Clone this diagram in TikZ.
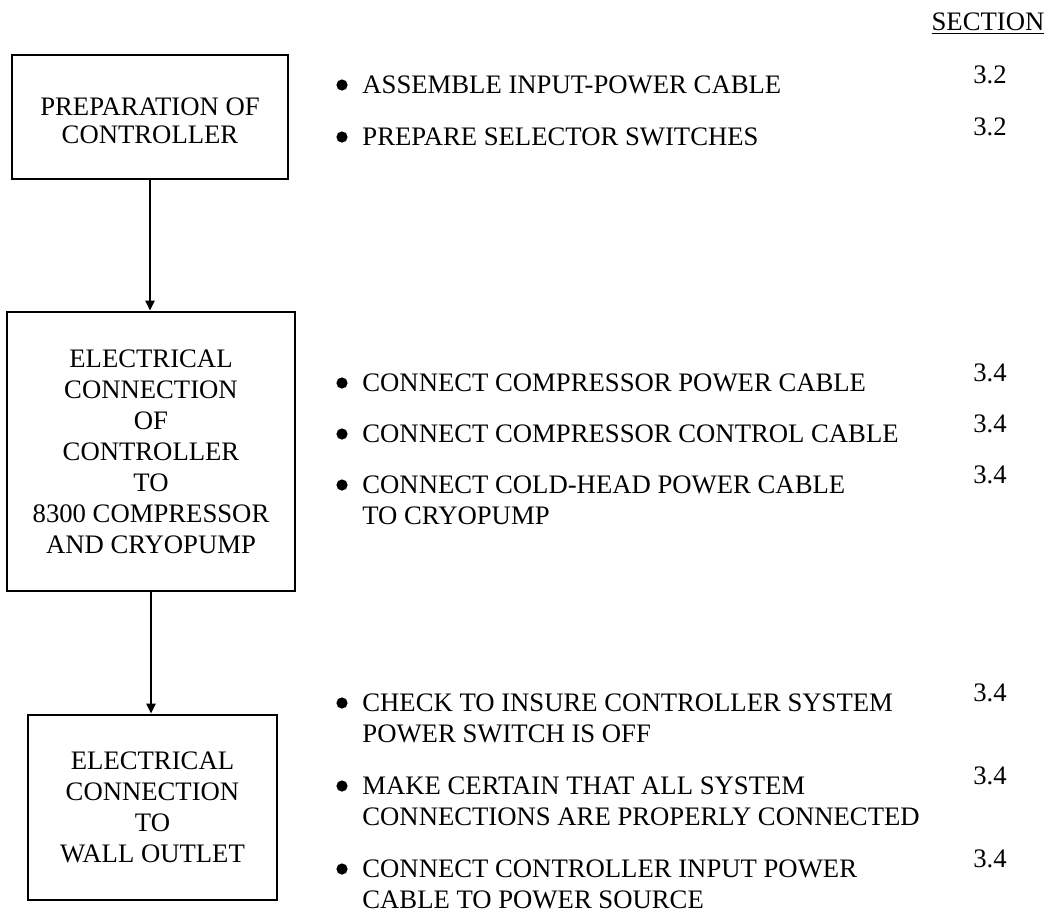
\documentclass[tikz,border=0pt]{standalone}
\usepackage{fontspec}
\setmainfont{Liberation Serif}
\usetikzlibrary{arrows.meta, positioning}

\begin{document}
\begin{tikzpicture}[
  x=0.5pt, y=-0.5pt,
  font=\fontsize{13.35pt}{15.5pt}\selectfont,
  box/.style={rectangle, draw, line width=1.4pt, align=center,
              inner sep=0pt, text centered},
  item/.style={anchor=base west, align=left, inner sep=0pt},
  sec/.style={anchor=base, inner sep=0pt},
  dot/.style={circle, fill, inner sep=0pt, minimum size=5.6pt},
  arr/.style={-{Triangle[length=5pt, width=4.5pt]}, line width=1.4pt},
]
  \useasboundingbox (0,0) rectangle (1048,911);

  %% ── Left column: steps ───────────────────────────────────────────────────
  \node[box, minimum width=138pt, minimum height=62pt, text height=26.8pt,
        font=\fontsize{13.35pt}{14pt}\selectfont] (prep) at (150,117)
    {PREPARATION OF\\CONTROLLER};
  \node[box, minimum width=144pt, minimum height=139.5pt] (conn) at (151,451.5)
    {ELECTRICAL\\CONNECTION\\OF\\CONTROLLER\\TO\\8300 COMPRESSOR\\AND CRYOPUMP};
  \node[box, minimum width=124.5pt, minimum height=92.5pt] (wall) at (152.5,807.5)
    {ELECTRICAL\\CONNECTION\\TO\\WALL OUTLET};

  %% ── Step arrows ──────────────────────────────────────────────────────────
  \draw[arr] (prep.south) -- (prep.south |- conn.north);
  \draw[arr] (conn.south) -- (conn.south |- wall.north);

  %% ── Section heading ──────────────────────────────────────────────────────
  \node[sec] (sechead) at (988,30) {\underline{SECTION}};

  %% ── Group 1: preparation ─────────────────────────────────────────────────
  \node[dot]  (d1) at (342,85)  {};
  \node[item] (t1) at (362,93)  {ASSEMBLE INPUT-POWER CABLE};
  \node[sec]  (s1) at (990,83)  {3.2};
  \node[dot]  (d2) at (342,137) {};
  \node[item] (t2) at (362,145) {PREPARE SELECTOR SWITCHES};
  \node[sec]  (s2) at (990,135) {3.2};

  %% ── Group 2: controller to compressor and cryopump ───────────────────────
  %% (multi-line items sit on the baseline of their last line)
  \node[dot]  (d3) at (342,383) {};
  \node[item] (t3) at (362,391) {CONNECT COMPRESSOR POWER CABLE};
  \node[sec]  (s3) at (990,381) {3.4};
  \node[dot]  (d4) at (342,434) {};
  \node[item] (t4) at (362,442) {CONNECT COMPRESSOR CONTROL CABLE};
  \node[sec]  (s4) at (990,432) {3.4};
  \node[dot]  (d5) at (342,485) {};
  \node[item] (t5) at (362,524) {CONNECT COLD-HEAD POWER CABLE\\TO CRYOPUMP};
  \node[sec]  (s5) at (990,483) {3.4};

  %% ── Group 3: wall outlet ─────────────────────────────────────────────────
  \node[dot]  (d6) at (342,703) {};
  \node[item] (t6) at (362,742) {CHECK TO INSURE CONTROLLER SYSTEM\\POWER SWITCH IS OFF};
  \node[sec]  (s6) at (990,701) {3.4};
  \node[dot]  (d7) at (342,786) {};
  \node[item] (t7) at (362,825) {MAKE CERTAIN THAT ALL SYSTEM\\CONNECTIONS ARE PROPERLY CONNECTED};
  \node[sec]  (s7) at (990,784) {3.4};
  \node[dot]  (d8) at (342,869) {};
  \node[item] (t8) at (362,908) {CONNECT CONTROLLER INPUT POWER\\CABLE TO POWER SOURCE};
  \node[sec]  (s8) at (990,867) {3.4};

\end{tikzpicture}
\end{document}
